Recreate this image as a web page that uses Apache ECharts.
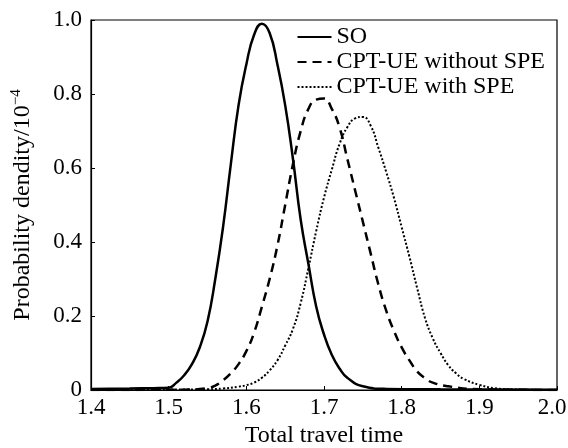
<!DOCTYPE html>
<html>
<head>
<meta charset="utf-8">
<script src="https://cdn.jsdelivr.net/npm/echarts@6/dist/echarts.min.js"></script>
<style>
  html, body { margin: 0; padding: 0; background: #fff; }
  #chart { width: 568px; height: 448px; }
</style>
</head>
<body>
<div id="chart"></div>
<script>
// tick labels
var xTickLabels = ['1.4', '1.5', '1.6', '1.7', '1.8', '1.9', '2.0'];
var yTickLabels = ['0', '0.2', '0.4', '0.6', '0.8', '1.0'];

// series names
var seriesNames = ['SO', 'CPT-UE without SPE', 'CPT-UE with SPE'];

// [total travel time, probability density]
var soData = [
  [1.40, 0.003], [1.45, 0.004], [1.48, 0.005], [1.50, 0.006], [1.51, 0.02],
  [1.52, 0.04], [1.53, 0.07], [1.54, 0.115], [1.55, 0.185], [1.56, 0.30],
  [1.57, 0.44], [1.58, 0.61], [1.59, 0.77], [1.60, 0.88], [1.61, 0.96],
  [1.62, 0.99], [1.63, 0.965], [1.64, 0.88], [1.65, 0.77], [1.66, 0.625],
  [1.67, 0.46], [1.68, 0.34], [1.69, 0.225], [1.70, 0.15], [1.71, 0.095],
  [1.72, 0.058], [1.73, 0.033], [1.75, 0.01], [1.78, 0.003], [1.85, 0.002],
  [2.00, 0.001]
];

var withoutSpeData = [
  [1.40, 0.000], [1.52, 0.001], [1.55, 0.005], [1.56, 0.012], [1.57, 0.026],
  [1.58, 0.045], [1.59, 0.07], [1.60, 0.105], [1.61, 0.155], [1.62, 0.225],
  [1.63, 0.30], [1.64, 0.39], [1.65, 0.50], [1.66, 0.61], [1.67, 0.70],
  [1.68, 0.76], [1.69, 0.785], [1.70, 0.788], [1.71, 0.76], [1.72, 0.71],
  [1.73, 0.625], [1.74, 0.54], [1.75, 0.455], [1.76, 0.37], [1.77, 0.285],
  [1.78, 0.215], [1.79, 0.16], [1.80, 0.115], [1.81, 0.08], [1.82, 0.05],
  [1.83, 0.032], [1.84, 0.02], [1.86, 0.01], [1.90, 0.002], [2.00, 0.000]
];

var withSpeData = [
  [1.40, 0.000], [1.55, 0.002], [1.57, 0.004], [1.59, 0.009], [1.60, 0.013],
  [1.61, 0.02], [1.62, 0.033], [1.63, 0.053], [1.64, 0.08], [1.65, 0.12],
  [1.66, 0.165], [1.67, 0.235], [1.68, 0.33], [1.69, 0.43], [1.70, 0.52],
  [1.71, 0.595], [1.72, 0.665], [1.73, 0.71], [1.74, 0.734], [1.75, 0.738],
  [1.76, 0.715], [1.77, 0.655], [1.78, 0.59], [1.79, 0.52], [1.80, 0.44],
  [1.81, 0.36], [1.82, 0.275], [1.83, 0.195], [1.84, 0.14], [1.85, 0.10],
  [1.86, 0.067], [1.87, 0.045], [1.88, 0.03], [1.90, 0.014], [1.92, 0.005],
  [1.95, 0.001], [2.00, 0.000]
];

var font = '"Liberation Serif", "DejaVu Serif", serif';

var myChart = echarts.init(document.getElementById('chart'));

function lineSeries(name, data, lineType, width) {
  return {
    name: name,
    type: 'line',
    data: data,
    smooth: 0.5,
    symbol: 'none',
    showSymbol: false,
    lineStyle: { color: '#000', width: width, type: lineType },
    itemStyle: { color: '#000' }
  };
}

var option = {
  animation: false,
  backgroundColor: '#fff',
  grid: {
    left: 91, right: 11, top: 20, bottom: 58,
    outerBoundsMode: 'none',
    containLabel: false,
    show: true, borderColor: '#000', borderWidth: 1.2
  },
  legend: {
    orient: 'vertical',
    right: 18,
    top: 20,
    itemWidth: 34,
    itemHeight: 14,
    itemGap: 1,
    itemStyle: { opacity: 0 },
    textStyle: { fontFamily: font, fontSize: 24, color: '#000' },
    data: seriesNames
  },
  xAxis: {
    type: 'value',
    min: 1.4,
    max: 2.0,
    interval: 0.1,
    name: 'Total travel time',
    nameLocation: 'middle',
    nameGap: 34,
    nameTextStyle: { fontFamily: font, fontSize: 24, color: '#000' },
    axisLine: { lineStyle: { color: '#000', width: 1.2 } },
    axisTick: { inside: true, length: 4, lineStyle: { color: '#000' } },
    axisLabel: {
      fontFamily: font, fontSize: 23, color: '#000', margin: 6,
      formatter: function (value) {
        var i = Math.round((value - 1.4) * 10);
        // last label sits against the right edge of the picture
        return i === xTickLabels.length - 1 ? '{last|' + xTickLabels[i] + '}' : xTickLabels[i];
      },
      rich: {
        last: { fontFamily: font, fontSize: 23, color: '#000', padding: [0, 10, 0, 0] }
      }
    },
    splitLine: { show: false }
  },
  yAxis: {
    type: 'value',
    min: 0,
    max: 1.0,
    interval: 0.2,
    name: 'Probability dendity/10{sup|\u22124}',
    nameLocation: 'middle',
    nameGap: 55,
    nameTextStyle: {
      fontFamily: font, fontSize: 24, color: '#000',
      rich: {
        sup: { fontFamily: font, fontSize: 15, color: '#000', verticalAlign: 'top', padding: [0, 0, 12, 0] }
      }
    },
    axisLine: { lineStyle: { color: '#000', width: 1.2 } },
    axisTick: { inside: true, length: 4, lineStyle: { color: '#000' } },
    axisLabel: {
      fontFamily: font, fontSize: 23, color: '#000', margin: 9,
      formatter: function (value) {
        return yTickLabels[Math.round(value * 5)];
      }
    },
    splitLine: { show: false }
  },
  series: [
    lineSeries(seriesNames[0], soData, 'solid', 2.5),
    lineSeries(seriesNames[1], withoutSpeData, [9, 6], 2.5),
    lineSeries(seriesNames[2], withSpeData, [2, 2], 2)
  ]
};

myChart.setOption(option);
</script>
</body>
</html>
